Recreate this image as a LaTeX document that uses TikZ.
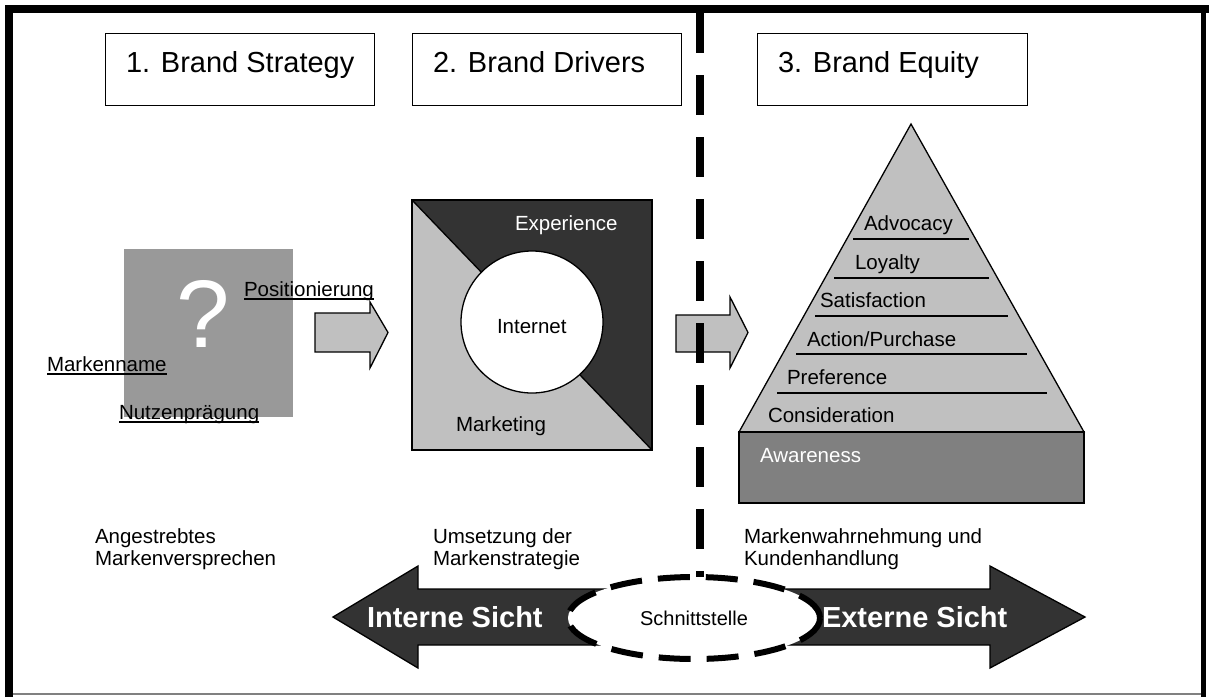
\documentclass[tikz,border=0pt]{standalone}
\usepackage{fontspec}
\setmainfont{Liberation Sans}
\usetikzlibrary{shapes.geometric}
\definecolor{lgray}{HTML}{C0C0C0}
\definecolor{dgray}{HTML}{333333}
\definecolor{mgray}{HTML}{808080}
\definecolor{sqgray}{HTML}{999999}
\tikzset{
  thin line/.style={line width=1.3pt},
  txt/.style={inner sep=0pt, outer sep=0pt, anchor=base west, font=\fontsize{20.5}{24}\selectfont},
  wtxt/.style={txt, text=white},
  ttl/.style={inner sep=0pt, outer sep=0pt, anchor=base west, font=\fontsize{29}{34}\selectfont},
  titlebox/.style={draw, thin line, fill=white, anchor=north west, minimum width=#1, minimum height=72pt, inner sep=0pt},
  blockarrow/.style={draw, thin line, fill=lgray},
  ulinestyle/.style={line width=1.6pt},
  bigtxt/.style={inner sep=0pt, outer sep=0pt, anchor=base west, text=white, font=\fontsize{29}{34}\selectfont\bfseries},
}
\begin{document}
\begin{tikzpicture}[x=1pt,y=-1pt]
\useasboundingbox (0,0) rectangle (1209,697);
% frame
\draw[line width=8pt] (9,697) -- (9,9) -- (1209,9);
\draw[line width=5pt] (1203.5,9) -- (1203.5,697);
\draw[gray, line width=1.2pt] (13,694) -- (1201,694);

% title boxes
\node[titlebox=269pt] (b1) at (105,33) {};
\node[titlebox=269pt] (b2) at (412,33) {};
\node[titlebox=270pt] (b3) at (757,33) {};
\node[ttl] (t1) at (126,72) {1. Brand Strategy};
\node[ttl] (t2) at (433,72) {2. Brand Drivers};
\node[ttl] (t3) at (778,72) {3. Brand Equity};

% brand strategy picture
\node[fill=sqgray, minimum width=169pt, minimum height=168pt, inner sep=0pt, anchor=north west] (sq) at (124,249) {};
\node[inner sep=0pt, text=white, font=\fontsize{96}{100}\selectfont] (qm) at (203,314) {?};
\node[txt] (pos) at (244,296) {Positionierung};
\draw[ulinestyle] ([yshift=-3pt]pos.base west) -- ([yshift=-3pt]pos.base east);
\node[txt] (mname) at (47,371) {Markenname};
\draw[ulinestyle] ([yshift=-3pt]mname.base west) -- ([yshift=-3pt]mname.base east);
\node[txt] (nutz) at (119,419) {Nutzenprägung};
\draw[ulinestyle] ([yshift=-3pt]nutz.base west) -- ([yshift=-3pt]nutz.base east);

% arrow 1
\draw[blockarrow] (315,313) -- (370,313) -- (370,302) -- (388,332.5) -- (370,368) -- (370,352) -- (315,352) -- cycle;

% brand drivers square
\fill[dgray] (412,200) -- (652,200) -- (652,450) -- cycle;
\fill[lgray] (412,200) -- (412,450) -- (652,450) -- cycle;
\draw[thin line] (412,200) -- (652,450);
\draw[thin line] (412,200) rectangle (652,450);
\node[circle, draw, thin line, fill=white, minimum size=142pt, inner sep=0pt] (inet) at (532,322) {};
\node[txt] (inettxt) at (497,333) {Internet};
\node[wtxt] (exp) at (515,230) {Experience};
\node[txt] (mkt) at (456,431) {Marketing};

% arrow 2
\draw[blockarrow] (676,315) -- (730,315) -- (730,297) -- (748,332.5) -- (730,368) -- (730,352) -- (676,352) -- cycle;

% pyramid
\draw[thin line, fill=lgray] (911,124) -- (1084,432) -- (739,432) -- cycle;
\draw[thin line, fill=mgray] (739,432) rectangle (1084,503);
\draw[thin line] (853,239) -- (969,239);
\draw[thin line] (834,278) -- (989,278);
\draw[thin line] (815,316) -- (1008,316);
\draw[thin line] (796,354) -- (1027,354);
\draw[thin line] (777,393) -- (1047,393);
\node[txt] (p1) at (864,230) {Advocacy};
\node[txt] (p2) at (855,269) {Loyalty};
\node[txt] (p3) at (820,307) {Satisfaction};
\node[txt] (p4) at (807,346) {Action/Purchase};
\node[txt] (p5) at (787,384) {Preference};
\node[txt] (p6) at (768,422) {Consideration};
\node[wtxt] (p7) at (760,462) {Awareness};

% captions
\node[txt] (c1a) at (95,543) {Angestrebtes};
\node[txt] (c1b) at (95,565) {Markenversprechen};
\node[txt] (c2a) at (433,543) {Umsetzung der};
\node[txt] (c2b) at (433,565) {Markenstrategie};
\node[txt] (c3a) at (744,543) {Markenwahrnehmung und};
\node[txt] (c3b) at (744,565) {Kundenhandlung};

% big double arrow
\draw[thin line, fill=dgray] (333,617) -- (418,566) -- (418,589) -- (990,589) -- (990,566) -- (1085,617) -- (990,668) -- (990,645) -- (418,645) -- (418,668) -- cycle;
\node[bigtxt] (intern) at (367,627) {Interne Sicht};
\node[bigtxt] (extern) at (822,627) {Externe Sicht};

% dashed separator
\draw[line width=8pt, dash pattern=on 40pt off 22pt] (700,13) -- (700,592);

% interface ellipse
\node[ellipse, draw, fill=white, line width=6pt, dash pattern=on 32pt off 16pt, minimum width=252pt, minimum height=82pt, inner sep=0pt, font=\fontsize{20}{24}\selectfont] (schnitt) at (694,618) {Schnittstelle};
\end{tikzpicture}
\end{document}
